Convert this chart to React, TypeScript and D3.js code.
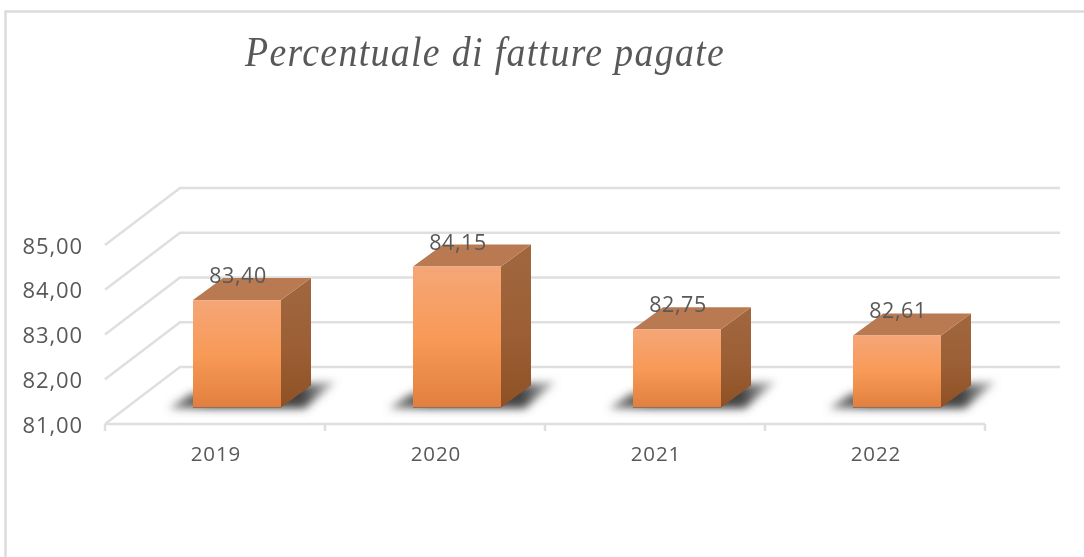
import React from "react";
import * as d3 from "d3";

const categories = ["2019", "2020", "2021", "2022"];
const values = [83.4, 84.15, 82.75, 82.61];
const valueLabels = ["83,40", "84,15", "82,75", "82,61"];
const yTicks = [81, 82, 83, 84, 85];
const yTickLabels = ["81,00", "82,00", "83,00", "84,00", "85,00"];
const titleText = "Percentuale di fatture pagate";

const W = 1084, H = 557;
const depthX = 75, depthY = -57;
const barDepthX = 30, barDepthY = -22;

const x = d3.scaleBand<string>().domain(categories).range([105, 985]).paddingInner(0).paddingOuter(0);
const yFront = d3.scaleLinear().domain([81, 85]).range([424, 245]);
const yBar = d3.scaleLinear().domain([81, 85]).range([407.5, 228.5]);
const barWidth = 88;
const barShift = 22;
const poly = (p: [number, number][]) => (d3.line()(p) || "") + "Z";
const textCol = "#595959";
const sans = "'Open Sans', sans-serif";
const gridCol = "#DFDFDF";

export default function App() {
  return (
    <svg width={W} height={H} viewBox={`0 0 ${W} ${H}`}
      style={{ position: "absolute", left: 0, top: 0, background: "#fff" }}>
      <defs>
        <linearGradient id="front" x1="0" y1="0" x2="0" y2="1">
          <stop offset="0" stopColor="#F5A677" />
          <stop offset="0.5" stopColor="#F89A58" />
          <stop offset="1" stopColor="#E27F3E" />
        </linearGradient>
        <linearGradient id="side" x1="0" y1="0" x2="0" y2="1">
          <stop offset="0" stopColor="#A0673F" />
          <stop offset="0.55" stopColor="#9C5F35" />
          <stop offset="1" stopColor="#8E5024" />
        </linearGradient>
        <linearGradient id="shadowFill" x1="0" y1="0" x2="1" y2="0">
          <stop offset="0" stopColor="#555" stopOpacity="0.7" />
          <stop offset="0.25" stopColor="#444" />
          <stop offset="0.8" stopColor="#444" />
          <stop offset="1" stopColor="#777" stopOpacity="0.45" />
        </linearGradient>
        <filter id="sh" x="-20%" y="-60%" width="140%" height="220%">
          <feGaussianBlur stdDeviation="4" />
        </filter>
        <filter id="soft" x="-5%" y="-20%" width="110%" height="140%">
          <feGaussianBlur stdDeviation="0.45" />
        </filter>
      </defs>

      <path d="M5.5 557V11.5H1084" fill="none" stroke="#DCDCDC" strokeWidth={2.5} />

      <text transform="translate(245 66) scale(0.9 1)" fontFamily="'Liberation Serif', serif" fontStyle="italic"
        fontSize={42} fontWeight={400} letterSpacing={1.5} fill="#595959" filter="url(#soft)">{titleText}</text>

      {yTicks.map((t) => {
        const y0 = yFront(t);
        return (
          <path key={t} d={`M${105} ${y0}L${105 + depthX} ${y0 + depthY}H${105 + depthX + 880}`}
            fill="none" stroke={gridCol} strokeWidth={2.5} />
        );
      })}

      <path d={`M105 424H985`} stroke={gridCol} strokeWidth={2.5} fill="none" />
      {[...categories.map((c) => x(c) as number), 985].map((t) => (
        <line key={t} x1={t} x2={t} y1={424} y2={431} stroke={gridCol} strokeWidth={2.5} />
      ))}

      {yTicks.map((t, i) => (
        <text key={t} x={83} y={yFront(t) + 8.5} textAnchor="end" fontFamily={sans} fontSize={22}
          letterSpacing={0.9} fill={textCol} filter="url(#soft)">{yTickLabels[i]}</text>
      ))}

      {categories.map((c) => {
        const cx = (x(c) as number) + x.bandwidth() / 2;
        return (
          <text key={c} x={cx + 1} y={461} textAnchor="middle" fontFamily={sans} fontSize={20.5}
            letterSpacing={0.9} fill={textCol} filter="url(#soft)">{c}</text>
        );
      })}

      {categories.map((c, i) => {
        const left = (x(c) as number) + x.bandwidth() / 2 + barShift - barWidth / 2;
        const right = left + barWidth;
        const top = yBar(values[i]);
        const bottom = yBar(81);
        return (
          <g key={c}>
            <path d={poly([[left - 24, bottom + 1], [left - 2, bottom - 14], [right + 55, bottom - 26], [right + 24, bottom + 1]])}
              fill="url(#shadowFill)" filter="url(#sh)" />
            <path d={poly([[right, top], [right + barDepthX, top + barDepthY], [right + barDepthX, bottom + barDepthY], [right, bottom]])}
              fill="url(#side)" />
            <path d={poly([[left, top], [left + barDepthX, top + barDepthY], [right + barDepthX, top + barDepthY], [right, top]])}
              fill="#B97A52" />
            <rect x={left} y={top} width={barWidth} height={bottom - top} fill="url(#front)" />
            <line x1={left} x2={right} y1={bottom} y2={bottom} stroke="#8a7060" strokeWidth={1} />
          </g>
        );
      })}

      {categories.map((c, i) => {
        const cx = (x(c) as number) + x.bandwidth() / 2 + barShift;
        return (
          <text key={c} x={cx + 1} y={yBar(values[i]) + barDepthY + 5} textAnchor="middle" fontFamily={sans}
            fontSize={21.5} letterSpacing={0.6} fill={textCol} filter="url(#soft)">{valueLabels[i]}</text>
        );
      })}
    </svg>
  );
}
